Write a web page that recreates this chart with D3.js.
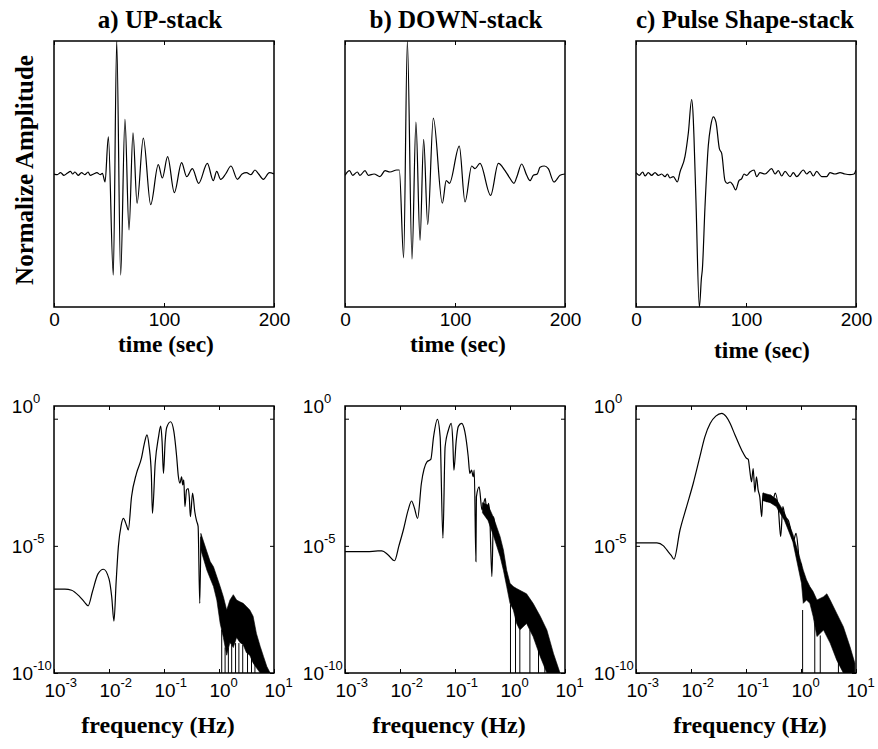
<!DOCTYPE html>
<html lang="en">
<head>
<meta charset="UTF-8">
<title>UP / DOWN / Pulse Shape stacks</title>
<script src="https://d3js.org/d3.v7.min.js"></script>
<style>
    body { margin: 0; background: #fff; }
    svg { display: block; }
    .title, .xlabel, .ylabel {
        font-family: "Liberation Serif", "Times New Roman", serif;
        font-weight: bold;
        fill: #000;
    }
    .lbl { font-family: "Liberation Sans", Arial, sans-serif; fill: #000; }
    .trace { fill: none; stroke: #000; stroke-width: 1.2; }
    .band { fill: #000; stroke: #000; stroke-width: 0.6; }
    .drop { stroke: #000; stroke-width: 1; }
    .frame { fill: none; stroke: #000; stroke-width: 1.5; }
</style>
</head>
<body>
<div id="chart"></div>
<script>
// ---- data ----
const titles = ["a) UP-stack", "b) DOWN-stack", "c) Pulse Shape-stack"];
const timeTicks = [0, 100, 200];
const freqTicks = [1e-3, 1e-2, 1e-1, 1, 10];
const specTicks = [1e-10, 1e-5, 1];

// normalized waveforms (time in sec)
const upTime = [0, 3, 6, 9, 12, 15, 17, 19, 22, 25, 28, 31, 33, 36, 39, 42, 44, 46.4, 49.4, 53.9, 57, 60.6, 64.5, 68.2, 71.8, 75.5, 81.2, 87.9, 94.8, 98.5, 103.3, 109.4, 116, 120.6, 125.8, 131.5, 139.4, 144.8, 147.9, 151.5, 156, 160.9, 166.7, 171, 175, 179, 182.7, 186, 190.3, 195.8, 200];
const upAmp = [0, -0.005, 0.01, -0.01, 0.005, 0.02, 0, 0.015, -0.01, 0.01, -0.005, 0.015, -0.01, 0, 0.01, -0.005, 0.005, -0.06, 0.28, -0.76, 1.0, -0.76, 0.41, -0.42, 0.31, -0.22, 0.27, -0.23, 0.07, -0.03, 0.13, -0.14, 0.085, -0.02, 0.04, -0.07, 0.08, -0.05, 0.02, -0.04, 0, 0.06, -0.04, 0, 0.01, -0.005, 0.03, 0, -0.04, 0.01, 0];

const downTime = [0, 4.1, 7, 11.2, 13.6, 18.2, 21.2, 26.4, 31.8, 36.4, 40.9, 47, 49.4, 53.3, 56.7, 60.9, 64.5, 68.2, 71.5, 75.2, 80.3, 88.5, 92, 95, 103.9, 109.1, 115.2, 118.2, 122.7, 132.4, 139.4, 145.5, 149.4, 153.6, 156.1, 160.6, 165.2, 168.2, 171.2, 174.8, 177.3, 181.2, 184.8, 190, 195.5, 200];
const downAmp = [-0.01, 0.025, -0.01, 0.015, -0.01, 0.025, -0.01, 0, -0.02, 0.025, 0.015, 0.03, 0.03, -0.63, 1.0, -0.64, 0.39, -0.5, 0.26, -0.38, 0.42, -0.22, -0.05, -0.07, 0.21, -0.21, 0.06, 0.04, 0.08, -0.16, 0.08, 0.025, -0.025, -0.07, -0.025, 0.075, -0.01, -0.05, -0.01, 0, 0.05, 0.06, 0.04, -0.06, -0.01, 0];

const pulseTime = [0, 3, 6.1, 8.2, 11.2, 14.2, 17.3, 20.3, 23.3, 26.4, 28.5, 30.9, 33.9, 37.6, 40, 44.5, 47.6, 50.6, 52.1, 52.7, 54.5, 57.6, 59.5, 60.3, 62.7, 65.7, 67.9, 70.3, 72.7, 75.8, 77.9, 80.9, 83, 85.5, 87.9, 90.6, 93.6, 96.1, 98.2, 100.6, 103.6, 107.3, 109.7, 112.7, 117.3, 123.3, 126.4, 129.4, 132.4, 135.5, 140, 143, 146.1, 152.1, 155.2, 158.2, 161.2, 164.2, 168.8, 173.3, 176.4, 180.9, 185.5, 190, 194.5, 198.2, 200];
const pulseAmp = [0.01, -0.01, 0.015, -0.015, 0.01, -0.01, 0.01, -0.01, 0, -0.02, 0, -0.03, -0.02, -0.06, 0.015, 0.13, 0.31, 0.56, 0.41, 0.28, -0.2, -1.0, -0.78, -0.72, -0.25, 0.21, 0.36, 0.43, 0.39, 0.19, 0.155, -0.05, -0.07, -0.06, -0.08, -0.12, -0.05, -0.035, 0, -0.01, 0.015, 0.03, -0.02, 0.01, 0, 0.04, 0, 0.025, -0.015, 0.02, -0.02, 0.01, -0.02, 0.03, 0, 0.02, -0.015, 0.02, -0.02, -0.02, 0.01, 0, 0.01, 0, -0.005, 0, 0.03];

// amplitude spectra (Hz)
const upFreq = [0.001, 0.00158, 0.00209, 0.00282, 0.00355, 0.00417, 0.00501, 0.00631, 0.00794, 0.01, 0.0112, 0.0123, 0.0135, 0.0148, 0.0166, 0.0182, 0.0209, 0.0224, 0.0257, 0.0316, 0.0389, 0.0437, 0.049, 0.0537, 0.0589, 0.0617, 0.0692, 0.0794, 0.0871, 0.0923, 0.0977, 0.105, 0.112, 0.132, 0.151, 0.17, 0.182, 0.195, 0.209, 0.219, 0.229, 0.24, 0.257, 0.275, 0.288, 0.302, 0.331, 0.363, 0.389, 0.417, 0.447, 0.468];
const upSpec = [2e-7, 2e-7, 1.8e-7, 1.1e-7, 6.3e-8, 4.4e-8, 1.6e-7, 7.9e-7, 1.2e-6, 5e-7, 1e-7, 1.1e-8, 4e-7, 9.3e-6, 6.3e-5, 1.2e-4, 6.3e-5, 4.2e-5, 8.5e-4, 7.1e-3, 2.8e-2, 0.1, 0.23, 0.079, 6.3e-3, 1.9e-4, 1.8e-2, 0.19, 0.51, 0.13, 7.1e-3, 0.13, 0.45, 0.76, 0.32, 3.2e-2, 5.6e-3, 2.9e-3, 5.2e-3, 2.5e-3, 3.9e-3, 3.5e-4, 1.6e-3, 1.8e-3, 8.5e-4, 1.4e-4, 1.2e-3, 2.2e-4, 1e-4, 5.8e-5, 5.5e-8, 2.3e-5];
const upBandFreq = [0.468, 0.603, 0.692, 0.794, 0.912, 1.05, 1.2, 1.38, 1.58, 1.82, 2.09, 2.4, 2.75, 3.16, 3.63, 4.17, 4.79, 5.62, 6.46, 7.41, 8.51];
const upBandHi = [3.1e-5, 5.9e-6, 2.4e-6, 1.5e-6, 6.2e-7, 2.5e-7, 1e-7, 3e-8, 7.4e-8, 1.2e-7, 7.4e-8, 6.3e-8, 5.5e-8, 4.1e-8, 3e-8, 1.7e-8, 3.6e-9, 1.1e-9, 4.4e-10, 1.8e-10, 1e-10];
const upBandLo = [6.9e-6, 1.1e-6, 5.2e-7, 2.5e-7, 7.4e-8, 8.9e-9, 2.5e-9, 5e-10, 1.6e-9, 1e-9, 2.5e-9, 1.6e-9, 1.3e-9, 6.3e-10, 5e-10, 2.5e-10, 1.6e-10, 1e-10, 1e-10, 1e-10, 1e-10];
const upDrop = [[1.12, 5e-9], [1.29, 1e-9], [1.48, 1e-9], [1.7, 1.3e-9], [2.0, 1.5e-9], [2.3, 1.5e-9], [2.7, 1.3e-9], [3.3, 6e-10], [3.9, 4e-10], [4.5, 2.5e-10]];

const downFreq = [0.001, 0.00251, 0.00398, 0.00468, 0.00603, 0.00794, 0.00955, 0.0115, 0.0141, 0.0162, 0.0182, 0.0209, 0.0245, 0.0309, 0.0363, 0.0407, 0.0479, 0.0537, 0.0603, 0.0661, 0.0759, 0.0851, 0.0912, 0.0955, 0.105, 0.115, 0.132, 0.151, 0.174, 0.186, 0.2, 0.214, 0.224, 0.24, 0.245, 0.275, 0.309, 0.355, 0.38, 0.407, 0.427, 0.468, 0.501, 0.575, 0.631];
const downSpec = [5.9e-6, 5.9e-6, 6.3e-6, 6.3e-6, 4.5e-6, 2.6e-6, 1e-5, 4.2e-5, 2.6e-4, 5.8e-4, 3.2e-4, 1.2e-4, 2.9e-3, 2e-2, 2.5e-2, 0.19, 0.95, 0.19, 2e-5, 0.079, 0.36, 0.66, 0.13, 9.5e-3, 0.13, 0.5, 0.66, 0.31, 3.2e-2, 7.1e-3, 9.5e-3, 5.2e-3, 9.5e-3, 2.4e-6, 8.5e-4, 2.1e-3, 2.6e-4, 7.4e-4, 1.9e-4, 4.7e-4, 1.9e-4, 6.2e-7, 1.4e-4, 1.7e-5, 2.3e-5];
const downBandFreq = [0.316, 0.398, 0.501, 0.661, 0.759, 0.871, 1.0, 1.15, 1.32, 1.51, 2.0, 2.63, 3.55, 4.68, 6.17, 8.13];
const downBandHi = [5e-4, 4e-4, 1.3e-4, 2.3e-5, 6.9e-6, 1.1e-6, 3.4e-7, 2.5e-7, 2.1e-7, 1.8e-7, 1.3e-7, 5.5e-8, 1.7e-8, 4.9e-9, 5.9e-10, 1e-10];
const downBandLo = [2e-4, 1e-4, 2.5e-5, 3.8e-6, 1.1e-6, 2.5e-7, 5.5e-8, 3e-8, 8.9e-9, 4.9e-9, 8.9e-9, 2.7e-9, 4.4e-10, 1e-10, 1e-10, 1e-10];
const downDrop = [[1.02, 5e-8], [1.26, 2e-8], [1.51, 5e-9], [2.3, 5e-9], [3.3, 8e-10], [4.3, 3e-10]];

const pulseFreq = [0.001, 0.0024, 0.00316, 0.00363, 0.00437, 0.0049, 0.00631, 0.00832, 0.011, 0.0145, 0.0178, 0.0224, 0.0282, 0.0363, 0.0437, 0.0513, 0.0631, 0.0832, 0.102, 0.11, 0.117, 0.126, 0.135, 0.145, 0.155, 0.166, 0.178, 0.193, 0.204, 0.24, 0.275, 0.316, 0.339, 0.389, 0.427, 0.468, 0.513, 0.589, 0.631, 0.724, 0.813, 0.891, 0.955, 1.02];
const pulseSpec = [1.3e-5, 1.3e-5, 1e-5, 6.9e-6, 4.2e-6, 3e-6, 4.2e-5, 3.5e-4, 2.9e-3, 3.2e-2, 0.19, 0.66, 1.26, 1.62, 1.2, 0.66, 0.23, 5.9e-2, 2.8e-2, 2.5e-2, 9.5e-3, 3.3e-3, 1.1e-2, 1.3e-3, 5.2e-3, 1.6e-3, 8.5e-4, 1.4e-4, 1.2e-3, 5.5e-4, 1e-3, 7.4e-4, 1.2e-3, 2.6e-4, 2.3e-5, 3.5e-4, 1.4e-4, 1e-4, 5.8e-5, 1.5e-5, 3.1e-5, 6.9e-6, 1.1e-6, 2e-6];
const pulseBandFreq = [0.204, 0.275, 0.355, 0.501, 0.708, 1.02, 1.1, 1.26, 1.45, 1.66, 1.95, 2.57, 2.95, 3.39, 4.47, 5.89, 7.76, 9.55];
const pulseBandHi = [1.2e-3, 1e-3, 7e-4, 2e-4, 3e-5, 2e-6, 1.1e-6, 4.6e-7, 2.5e-7, 1.6e-7, 7.4e-8, 1e-7, 1.3e-7, 7.4e-8, 2.2e-8, 6.6e-9, 1.1e-9, 2.4e-10];
const pulseBandLo = [6e-4, 5e-4, 3.5e-4, 1e-4, 1.5e-5, 3.4e-7, 5.5e-8, 7.4e-8, 5.5e-8, 1.7e-8, 2.7e-9, 4.9e-9, 2.7e-9, 1.5e-9, 3.2e-10, 1e-10, 1e-10, 1e-10];
const pulseDrop = [[1.07, 3e-8], [1.78, 1e-8], [2.24, 3e-9], [4.79, 3e-10], [6.76, 2e-10]];

// ---- layout ----
const width = 878, height = 749;
const colLeft = [54, 345, 636];
const panelW = 220;
const topY = 41, topH = 266;
const botY = 406, botH = 267;
const titleX = [160, 456, 745];
const timeLabelX = [166, 458, 762], timeLabelY = [352, 352, 358];
const freqLabelX = [158, 449, 750];

const waves = [[upTime, upAmp], [downTime, downAmp], [pulseTime, pulseAmp]];
const spectra = [
    {f: upFreq, a: upSpec, bf: upBandFreq, hi: upBandHi, lo: upBandLo, drop: upDrop},
    {f: downFreq, a: downSpec, bf: downBandFreq, hi: downBandHi, lo: downBandLo, drop: downDrop},
    {f: pulseFreq, a: pulseSpec, bf: pulseBandFreq, hi: pulseBandHi, lo: pulseBandLo, drop: pulseDrop}
];

const svg = d3.select("#chart").append("svg")
    .attr("width", width)
    .attr("height", height);

const defs = svg.append("defs");

function cleanAxis(g) {
    g.select(".domain").remove();
    g.selectAll(".tick line").attr("stroke", "#000");
}

// top row: waveforms
waves.forEach(([t, v], i) => {
    const g = svg.append("g").attr("transform", `translate(${colLeft[i]},${topY})`);
    const x = d3.scaleLinear().domain([0, 200]).range([0, panelW]);
    const y = d3.scaleLinear().domain([-1, 1]).range([topH, 0]);

    defs.append("clipPath").attr("id", "clipT" + i)
        .append("rect").attr("width", panelW).attr("height", topH);

    const line = d3.line()
        .x(d => x(d[0]))
        .y(d => y(d[1]))
        .curve(d3.curveMonotoneX);

    g.append("path")
        .datum(d3.zip(t, v))
        .attr("class", "trace")
        .attr("clip-path", `url(#clipT${i})`)
        .attr("d", line);

    g.append("g")
        .attr("transform", `translate(0,${topH})`)
        .call(d3.axisBottom(x).tickValues(timeTicks).tickSizeInner(-4).tickSizeOuter(0).tickPadding(5.5))
        .call(cleanAxis)
        .call(a => a.selectAll("text")
            .attr("class", "lbl")
            .attr("font-size", 19)
            .attr("font-family", "Liberation Sans, Arial, sans-serif"));

    g.append("g")
        .call(d3.axisTop(x).tickValues(timeTicks).tickSizeInner(-4).tickSizeOuter(0).tickFormat(""))
        .call(cleanAxis);

    g.append("rect").attr("class", "frame").attr("width", panelW).attr("height", topH);

    svg.append("text").attr("class", "title")
        .attr("x", titleX[i]).attr("y", 28)
        .attr("text-anchor", "middle")
        .attr("font-size", 25)
        .text(titles[i]);

    svg.append("text").attr("class", "xlabel")
        .attr("x", timeLabelX[i]).attr("y", timeLabelY[i])
        .attr("text-anchor", "middle")
        .attr("font-size", 23.5)
        .text("time (sec)");
});

svg.append("text").attr("class", "ylabel")
    .attr("transform", "translate(33,170) rotate(-90)")
    .attr("text-anchor", "middle")
    .attr("font-size", 25)
    .text("Normalize Amplitude");

// bottom row: spectra
spectra.forEach((s, i) => {
    const left = colLeft[i];
    const g = svg.append("g").attr("transform", `translate(${left},${botY})`);
    const x = d3.scaleLog().domain([1e-3, 10]).range([0, panelW]);
    const y = d3.scaleLog().domain([1e-10, Math.sqrt(10)]).range([botH, 0]);

    defs.append("clipPath").attr("id", "clipB" + i)
        .append("rect").attr("width", panelW).attr("height", botH);

    const plot = g.append("g").attr("clip-path", `url(#clipB${i})`);

    const band = d3.area()
        .x(d => x(d[0]))
        .y0(d => y(d[2]))
        .y1(d => y(d[1]));

    plot.append("path")
        .datum(d3.zip(s.bf, s.hi, s.lo))
        .attr("class", "band")
        .attr("d", band);

    plot.selectAll(".drop")
        .data(s.drop)
        .join("line")
        .attr("class", "drop")
        .attr("x1", d => x(d[0])).attr("x2", d => x(d[0]))
        .attr("y1", d => y(d[1])).attr("y2", y(1e-10));

    const line = d3.line()
        .x(d => x(d[0]))
        .y(d => y(d[1]))
        .curve(d3.curveMonotoneX);

    plot.append("path")
        .datum(d3.zip(s.f, s.a))
        .attr("class", "trace")
        .attr("d", line);

    g.append("g")
        .attr("transform", `translate(0,${botH})`)
        .call(d3.axisBottom(x).tickValues(freqTicks).tickSizeInner(-4).tickSizeOuter(0).tickFormat(""))
        .call(cleanAxis);
    g.append("g")
        .call(d3.axisTop(x).tickValues(freqTicks).tickSizeInner(-4).tickSizeOuter(0).tickFormat(""))
        .call(cleanAxis);
    g.append("g")
        .call(d3.axisLeft(y).tickValues(specTicks).tickSizeInner(-4).tickSizeOuter(0).tickFormat(""))
        .call(cleanAxis);
    g.append("g")
        .attr("transform", `translate(${panelW},0)`)
        .call(d3.axisRight(y).tickValues(specTicks).tickSizeInner(-4).tickSizeOuter(0).tickFormat(""))
        .call(cleanAxis);

    g.append("rect").attr("class", "frame").attr("width", panelW).attr("height", botH);

    // power-of-ten labels: "10" with a raised exponent
    freqTicks.forEach(f => {
        const px = left + x(f) + 1;
        svg.append("text").attr("class", "lbl")
            .attr("x", px).attr("y", 697)
            .attr("text-anchor", "middle").attr("font-size", 19)
            .text("10");
        svg.append("text").attr("class", "lbl")
            .attr("x", px + 10.5).attr("y", 687)
            .attr("font-size", 13)
            .text(Math.round(Math.log10(f)));
    });

    specTicks.forEach(a => {
        // the top label sits at the frame's upper edge, as in the figure
        const yy = a === 1 ? botY + 7 : botY + y(a) + 7;
        svg.append("text").attr("class", "lbl")
            .attr("x", left - 21).attr("y", yy)
            .attr("text-anchor", "end").attr("font-size", 19)
            .text("10");
        svg.append("text").attr("class", "lbl")
            .attr("x", left - 21).attr("y", yy - 10)
            .attr("font-size", 13)
            .text(Math.round(Math.log10(a)));
    });

    svg.append("text").attr("class", "xlabel")
        .attr("x", freqLabelX[i]).attr("y", 733)
        .attr("text-anchor", "middle")
        .attr("font-size", 24)
        .text("frequency (Hz)");
});
</script>
</body>
</html>
